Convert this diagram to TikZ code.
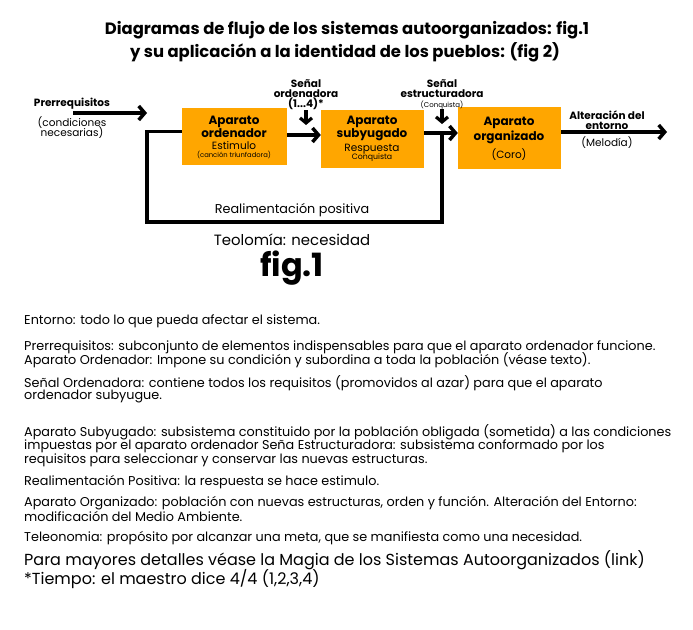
\documentclass[tikz,border=0pt]{standalone}
\usepackage{fontspec}
\setmainfont{Poppins}
\usetikzlibrary{arrows.meta}
\definecolor{naranja}{RGB}{255,166,0}

\begin{document}
\begin{tikzpicture}[x=1pt,y=-1pt,
    caja/.style={fill=naranja,inner sep=0pt},
    flecha/.style={line width=3.5pt,-{Straight Barb[length=6pt,width=14pt]}},
    flechita/.style={line width=3.2pt,-{Straight Barb[length=5pt,width=12pt]}},
    lazo/.style={line width=3.5pt},
    titulo/.style={font=\bfseries\fontsize{16.4}{17}\selectfont},
    negrita/.style={inner sep=0pt,font=\bfseries\fontsize{12}{12}\selectfont},
    etiq/.style={inner sep=0pt,font=\fontsize{10.5}{10}\selectfont},
    rotulo/.style={inner sep=0pt,align=center,font=\bfseries\fontsize{10.5}{10}\selectfont},
    linea/.style={anchor=west,inner sep=0pt,font=\fontsize{12.8}{13}\selectfont}]

\useasboundingbox (0,0) rectangle (693,629);

% titulo
\node[titulo] (tit1) at (347,30) {Diagramas de flujo de los sistemas autoorganizados: fig.1};
\node[titulo] (tit2) at (345,52) {y su aplicación a la identidad de los pueblos: (fig 2)};

% cajas
\node[caja,minimum width=105pt,minimum height=57pt] (ordenador) at (234.5,136.5) {};
\node[caja,minimum width=103pt,minimum height=58pt] (subyugado) at (372.5,139) {};
\node[caja,minimum width=103pt,minimum height=62pt] (organizado) at (509.5,138) {};

\node[negrita] (ord1) at (234,122) {Aparato};
\node[negrita] (ord2) at (234,133) {ordenador};
\node[etiq] (ord3) at (234,146) {Estimulo};
\node[etiq,font=\fontsize{6.8}{7}\selectfont] (ord4) at (234,155) {(canción triunfadora)};

\node[negrita] (sub1) at (372,122) {Aparato};
\node[negrita] (sub2) at (372,135) {subyugado};
\node[etiq] (sub3) at (372,149) {Respuesta};
\node[etiq,font=\fontsize{7.8}{8}\selectfont] (sub4) at (372,158) {Conquista};

\node[negrita] (org1) at (509,123) {Aparato};
\node[negrita] (org2) at (509,137) {organizado};
\node[etiq] (org3) at (509,155) {(Coro)};

% etiquetas de entrada y salida
\node[rotulo] (pre1) at (72,104) {Prerrequisitos};
\node[etiq] (pre2) at (72,123) {(condiciones};
\node[etiq] (pre3) at (72,133) {necesarias)};

\node[rotulo] (senal1) at (306,95) {Señal\\ordenadora\\(1...4)*};
\node[rotulo] (senal2) at (442,89) {Señal\\estructuradora};
\node[etiq,font=\fontsize{7}{7}\selectfont] (senal3) at (442,105) {(Conquista)};

\node[rotulo] (alt1) at (607,120) {Alteración del\\entorno};
\node[etiq] (alt2) at (607,143) {(Melodía)};

% flechas
\coordinate (prea) at (73,113);
\coordinate (preb) at (147,113);
\draw[flecha] (prea) -- (preb);

\coordinate (a1) at ([yshift=1.5pt]ordenador.east);
\draw[flecha] (a1) -- (a1 -| subyugado.west);
\coordinate (a2) at ([yshift=6pt]subyugado.east);
\draw[flecha] (a2) -- (a2 -| organizado.west);
\coordinate (a3) at ([yshift=6pt]organizado.east);
\coordinate (salida) at (667,132);
\draw[flecha] (a3) -- (salida);

\coordinate (s1) at (306,125);
\draw[flechita] (senal1.south) -- (s1);
\coordinate (s2) at (442,124);
\draw[flechita] (senal3.south) -- (s2);

% realimentacion
\coordinate (fbder) at (442,133);
\coordinate (fbizq) at (147,222);
\draw[lazo] (fbder) |- (fbizq) |- ([yshift=5pt]ordenador.west);

\node[etiq,font=\fontsize{12.8}{13}\selectfont] (real) at (292,210) {Realimentación positiva};
\node[etiq,font=\fontsize{14.9}{15}\selectfont] (teo) at (292,240) {Teolomía: necesidad};
\node[etiq,font=\bfseries\fontsize{32}{32}\selectfont] (fig) at (292,268) {fig.1};

% texto
\foreach \y/\txt in {321/{Entorno: todo lo que pueda afectar el sistema.},
    347/{Prerrequisitos: subconjunto de elementos indispensables para que el aparato ordenador funcione.},
    360/{Aparato Ordenador: Impone su condición y subordina a toda la población (véase texto).},
    383/{Señal Ordenadora: contiene todos los requisitos (promovidos al azar) para que el aparato},
    396/{ordenador subyugue.},
    432/{Aparato Subyugado: subsistema constituido por la población obligada (sometida) a las condiciones},
    446/{impuestas por el aparato ordenador Seña Estructuradora: subsistema conformado por los},
    460/{requisitos para seleccionar y conservar las nuevas estructuras.},
    482/{Realimentación Positiva: la respuesta se hace estimulo.},
    503/{Aparato Organizado: población con nuevas estructuras, orden y función. Alteración del Entorno:},
    517/{modificación del Medio Ambiente.},
    538/{Teleonomia: propósito por alcanzar una meta, que se manifiesta como una necesidad.}}
  \node[linea] (l\y) at (24,\y) {\txt};

\node[linea,font=\fontsize{16}{16}\selectfont] (mas) at (24,560) {Para mayores detalles véase la Magia de los Sistemas Autoorganizados (link)};
\node[linea,font=\fontsize{16}{16}\selectfont] (tiempo) at (24,579) {*Tiempo: el maestro dice 4/4 (1,2,3,4)};
\end{tikzpicture}
\end{document}
